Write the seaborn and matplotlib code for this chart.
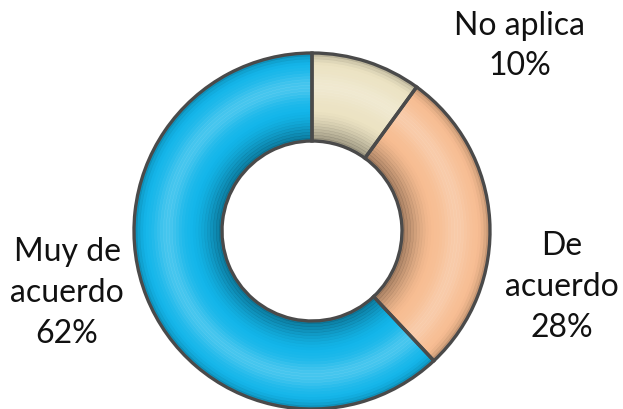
import matplotlib
matplotlib.use("Agg")
import matplotlib.pyplot as plt
import seaborn as sns
import numpy as np

# datos de la gráfica
categorias = ["No aplica", "De\nacuerdo", "Muy de\nacuerdo"]
porcentajes = [10, 28, 62]
colores = ["#ece3c3", "#f7bd92", "#13b6ea"]

sns.set_theme(style="white")
plt.rcParams["font.family"] = ["Lato", "DejaVu Sans"]

fig = plt.figure(figsize=(6.23, 4.09), dpi=100)
ax = fig.add_axes([0, 0, 1, 1])

centro = (312, 231)
r_ext, r_int = 178, 90

# anillo base
ax.pie(porcentajes, colors=colores, startangle=-90, counterclock=True,
       center=centro, radius=r_ext, frame=True,
       wedgeprops=dict(width=r_ext - r_int, edgecolor="none"))

# sombreado suave para dar relieve: oscuro por dentro, brillo hacia fuera
n = 30
paso = (r_ext - r_int) / n
for i in range(n):
    t = (i + 0.5) / n
    r = r_int + paso * (i + 1)
    oscuro = 0.35 * max(0, 1 - t / 0.35) ** 1.5 + 0.25 * max(0, (t - 0.85) / 0.15) ** 2
    brillo = 0.22 * np.exp(-((t - 0.62) / 0.15) ** 2)
    if oscuro > 0.005:
        ax.pie(porcentajes, colors=["black"] * 3, startangle=-90, counterclock=True,
               center=centro, radius=r, frame=True,
               wedgeprops=dict(width=paso + 0.3, edgecolor="none", alpha=oscuro))
    if brillo > 0.005:
        ax.pie(porcentajes, colors=["white"] * 3, startangle=-90, counterclock=True,
               center=centro, radius=r, frame=True,
               wedgeprops=dict(width=paso + 0.3, edgecolor="none", alpha=brillo))

# contornos
ax.pie(porcentajes, colors=["none"] * 3, startangle=-90, counterclock=True,
       center=centro, radius=r_ext, frame=True,
       wedgeprops=dict(width=r_ext - r_int, edgecolor="#4a4a4a", linewidth=2.4))

ax.set_xlim(0, 623)
ax.set_ylim(409, 0)
ax.set_aspect("equal")
ax.axis("off")

# etiquetas
posiciones = [(520, 46), (562, 287), (67, 293)]
for cat, pct, (x, y) in zip(categorias, porcentajes, posiciones):
    ax.text(x, y, f"{cat}\n{pct}%", ha="center", va="center",
            fontsize=23, color="#111111", linespacing=1.45)

fig.savefig("out.png", dpi=100)
